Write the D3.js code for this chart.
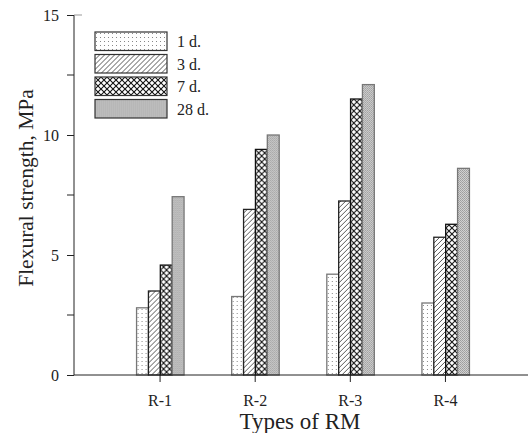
<!DOCTYPE html>
<html>
<head>
<script src="https://d3js.org/d3.v7.min.js"></script>
<style>
body { margin: 0; background: #fff; }
text { font-family: "Liberation Serif", "Times New Roman", serif; fill: #222; }
</style>
</head>
<body>
<script>
// data
var types = ["R-1", "R-2", "R-3", "R-4"];
var ages = ["1 d.", "3 d.", "7 d.", "28 d."];
var d1 = [2.8, 3.27, 4.2, 3.0];
var d3v = [3.5, 6.9, 7.25, 5.74];
var d7 = [4.58, 9.4, 11.5, 6.28];
var d28 = [7.43, 10.0, 12.1, 8.61];
var yTicks = [0, 5, 10, 15];
var yMinor = [2.5, 7.5, 12.5];

var series = [d1, d3v, d7, d28];
var width = 528, height = 433;

var svg = d3.select("body").append("svg")
    .attr("width", width).attr("height", height);

// patterns
var defs = svg.append("defs");
var p1 = defs.append("pattern").attr("id", "p0").attr("patternUnits", "userSpaceOnUse")
    .attr("width", 4).attr("height", 4);
p1.append("rect").attr("width", 4).attr("height", 4).attr("fill", "#fff");
p1.append("rect").attr("x", 1).attr("y", 1).attr("width", 1).attr("height", 1).attr("fill", "#888");

var p2 = defs.append("pattern").attr("id", "p1").attr("patternUnits", "userSpaceOnUse")
    .attr("width", 5).attr("height", 5);
p2.append("rect").attr("width", 5).attr("height", 5).attr("fill", "#fff");
p2.append("path").attr("d", "M0,5L5,0M-1,1L1,-1M4,6L6,4").attr("stroke", "#444").attr("stroke-width", 0.9);

var p3 = defs.append("pattern").attr("id", "p2").attr("patternUnits", "userSpaceOnUse")
    .attr("width", 6).attr("height", 6);
p3.append("rect").attr("width", 6).attr("height", 6).attr("fill", "#fff");
p3.append("path").attr("d", "M0,0L6,6M0,6L6,0").attr("stroke", "#111").attr("stroke-width", 1.1);

var p4 = defs.append("pattern").attr("id", "p3").attr("patternUnits", "userSpaceOnUse")
    .attr("width", 2).attr("height", 2);
p4.append("rect").attr("width", 2).attr("height", 2).attr("fill", "#d4d4d4");
p4.append("rect").attr("width", 1).attr("height", 1).attr("fill", "#999");
p4.append("rect").attr("x", 1).attr("y", 1).attr("width", 1).attr("height", 1).attr("fill", "#a4a4a4");

var strokes = ["#777", "#222", "#111", "#777"];

var y = d3.scaleLinear().domain([0, 15]).range([375, 15]);
var x = d3.scaleBand().domain(types).range([112.5, 493]).paddingInner(0);
var xs = d3.scaleBand().domain(d3.range(4)).range([0, 47.5]);

// bars
var groups = svg.selectAll("g.grp").data(types).enter().append("g")
    .attr("transform", function(d) { return "translate(" + (x(d) + x.bandwidth() / 2 - 23.5) + ",0)"; });
groups.selectAll("rect").data(function(d, i) { return series.map(function(s) { return s[i]; }); })
    .enter().append("rect")
    .attr("x", function(d, j) { return xs(j); })
    .attr("y", function(d) { return y(d); })
    .attr("width", xs.bandwidth())
    .attr("height", function(d) { return y(0) - y(d); })
    .attr("fill", function(d, j) { return "url(#p" + j + ")"; })
    .attr("stroke", function(d, j) { return strokes[j]; })
    .attr("stroke-width", 1.3);

// y axis
var ya = svg.append("g").attr("transform", "translate(74,0)")
    .call(d3.axisLeft(y).tickValues(yTicks).tickSize(7).tickPadding(8));
ya.select(".domain").remove();
ya.selectAll("line").attr("stroke", "#222");
ya.selectAll("text").style("font-size", "16px").style("font-family", "Liberation Serif");
svg.append("g").selectAll("line").data(yMinor).enter().append("line")
    .attr("x1", 67).attr("x2", 74)
    .attr("y1", function(d) { return y(d); }).attr("y2", function(d) { return y(d); })
    .attr("stroke", "#222");
svg.append("line").attr("x1", 74).attr("x2", 74).attr("y1", y(15)).attr("y2", y(0)).attr("stroke", "#222");
svg.append("line").attr("x1", 74).attr("x2", 82).attr("y1", y(15)).attr("y2", y(15)).attr("stroke", "#999");

// x axis
var xa = svg.append("g").attr("transform", "translate(0,375)")
    .call(d3.axisBottom(x).tickSize(7).tickPadding(13));
xa.select(".domain").remove();
xa.selectAll("line").attr("stroke", "#222");
xa.selectAll("text").style("font-size", "16px").style("font-family", "Liberation Serif");
svg.append("line").attr("x1", 74).attr("x2", 528).attr("y1", 375).attr("y2", 375).attr("stroke", "#222");

// titles
svg.append("text").attr("x", 300).attr("y", 429).attr("text-anchor", "middle")
    .style("font-size", "23px").text("Types of RM");
svg.append("text").attr("transform", "translate(33,188) rotate(-90)").attr("text-anchor", "middle")
    .style("font-size", "21.5px").text("Flexural strength, MPa");

// legend
var lg = svg.append("g").selectAll("g").data(ages).enter().append("g")
    .attr("transform", function(d, i) { return "translate(95," + (32 + i * 22.5) + ")"; });
lg.append("rect").attr("width", 72).attr("height", 18.5)
    .attr("fill", function(d, i) { return "url(#p" + i + ")"; })
    .attr("stroke", "#333").attr("stroke-width", 1.2);
lg.append("text").attr("x", 82).attr("y", 15).style("font-size", "16px").text(function(d) { return d; });
</script>
</body>
</html>
